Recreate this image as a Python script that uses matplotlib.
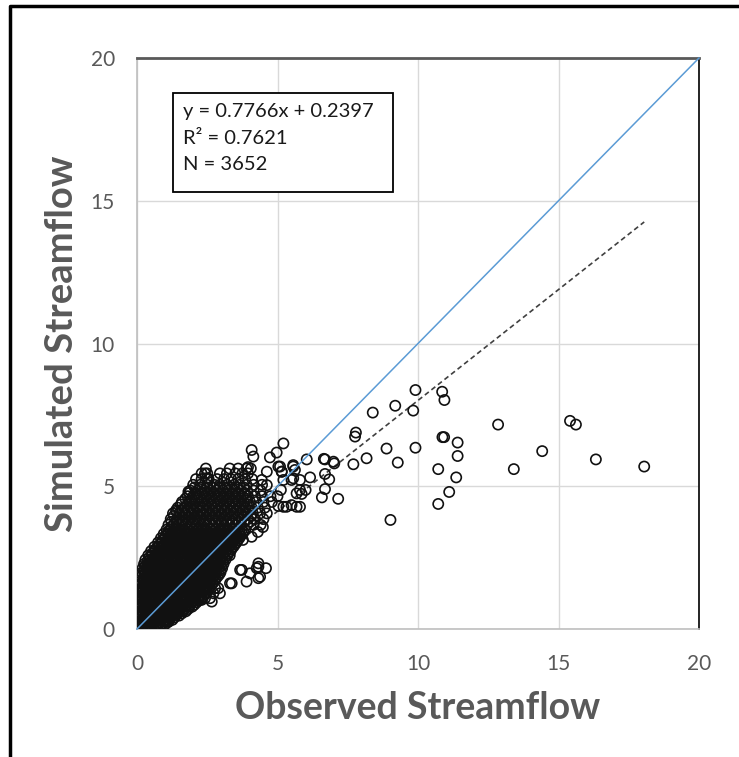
import matplotlib.pyplot as plt
from matplotlib.lines import Line2D
from matplotlib.patches import Rectangle

W, H = 739, 757

# regression summary shown in the box
slope = 0.7766
intercept = 0.2397
r2 = 0.7621
n_obs = 3652

# dense core of the cloud, one list of observed values per simulated level
core_sim = [0.05, 0.18, 0.32, 0.47, 0.62, 0.78, 0.93, 1.08, 1.23, 1.38, 1.53, 1.68,
            1.83, 1.98, 2.13, 2.28, 2.43, 2.58, 2.73, 2.88, 3.03, 3.18, 3.33, 3.48]
core_obs = [
    [0.03, 0.15, 0.28, 0.41, 0.52],
    [0.0, 0.12, 0.27, 0.43, 0.58, 0.74, 0.9, 1.02],
    [0.05, 0.2, 0.36, 0.51, 0.67, 0.83, 0.98, 1.13, 1.26],
    [0.02, 0.14, 0.3, 0.45, 0.61, 0.77, 0.92, 1.08, 1.24, 1.38, 1.5],
    [0.06, 0.22, 0.38, 0.53, 0.69, 0.85, 1.0, 1.16, 1.32, 1.47, 1.62, 1.74],
    [0.03, 0.15, 0.3, 0.46, 0.62, 0.78, 0.93, 1.09, 1.25, 1.41, 1.56, 1.72, 1.86, 1.96],
    [0.07, 0.23, 0.39, 0.55, 0.7, 0.86, 1.02, 1.18, 1.34, 1.49, 1.65, 1.81, 1.96, 2.12],
    [0.05, 0.16, 0.31, 0.47, 0.63, 0.79, 0.95, 1.1, 1.26, 1.42, 1.58, 1.73, 1.89, 2.05, 2.2, 2.31],
    [0.08, 0.24, 0.4, 0.55, 0.71, 0.87, 1.03, 1.19, 1.35, 1.5, 1.66, 1.82, 1.98, 2.13, 2.29, 2.44],
    [0.1, 0.2, 0.35, 0.5, 0.66, 0.82, 0.98, 1.14, 1.3, 1.45, 1.61, 1.77, 1.93, 2.08, 2.24, 2.4, 2.55],
    [0.12, 0.28, 0.44, 0.6, 0.75, 0.91, 1.07, 1.23, 1.39, 1.54, 1.7, 1.86, 2.02, 2.18, 2.33, 2.49, 2.64],
    [0.14, 0.25, 0.4, 0.56, 0.72, 0.88, 1.03, 1.19, 1.35, 1.51, 1.67, 1.83, 1.98, 2.14, 2.3, 2.46,
     2.62, 2.76],
    [0.16, 0.32, 0.48, 0.64, 0.8, 0.96, 1.11, 1.27, 1.43, 1.59, 1.75, 1.91, 2.06, 2.22, 2.38, 2.54,
     2.7, 2.86],
    [0.18, 0.3, 0.45, 0.61, 0.77, 0.93, 1.09, 1.24, 1.4, 1.56, 1.72, 1.88, 2.03, 2.19, 2.35, 2.51,
     2.67, 2.82, 2.97],
    [0.2, 0.36, 0.52, 0.68, 0.84, 1.0, 1.15, 1.31, 1.47, 1.63, 1.79, 1.94, 2.1, 2.26, 2.42, 2.58,
     2.74, 2.89, 3.03],
    [0.25, 0.38, 0.54, 0.7, 0.86, 1.02, 1.17, 1.33, 1.49, 1.65, 1.81, 1.96, 2.12, 2.28, 2.44, 2.6,
     2.76, 2.92, 3.08],
    [0.3, 0.46, 0.62, 0.78, 0.94, 1.09, 1.25, 1.41, 1.57, 1.73, 1.88, 2.04, 2.2, 2.36, 2.52, 2.68,
     2.83, 2.99, 3.15],
    [0.4, 0.53, 0.69, 0.85, 1.01, 1.17, 1.32, 1.48, 1.64, 1.8, 1.96, 2.11, 2.27, 2.43, 2.59, 2.75,
     2.91, 3.07, 3.22, 3.3],
    [0.5, 0.64, 0.8, 0.96, 1.12, 1.28, 1.43, 1.59, 1.75, 1.91, 2.07, 2.22, 2.38, 2.54, 2.7, 2.86,
     3.02, 3.17, 3.33],
    [0.62, 0.75, 0.91, 1.07, 1.23, 1.39, 1.54, 1.7, 1.86, 2.02, 2.18, 2.33, 2.49, 2.65, 2.81, 2.97,
     3.13, 3.28, 3.43],
    [0.75, 0.88, 1.04, 1.2, 1.36, 1.52, 1.67, 1.83, 1.99, 2.15, 2.31, 2.46, 2.62, 2.78, 2.94, 3.1,
     3.26, 3.41, 3.54],
    [0.85, 1.0, 1.16, 1.32, 1.48, 1.63, 1.79, 1.95, 2.11, 2.27, 2.42, 2.58, 2.74, 2.9, 3.06, 3.22,
     3.37, 3.52, 3.64],
    [0.95, 1.1, 1.26, 1.42, 1.58, 1.74, 1.89, 2.05, 2.21, 2.37, 2.53, 2.68, 2.84, 3.0, 3.16, 3.32,
     3.48, 3.63, 3.75],
    [1.05, 1.2, 1.36, 1.52, 1.68, 1.84, 2.0, 2.15, 2.31, 2.47, 2.63, 2.79, 2.94, 3.1, 3.26, 3.42,
     3.58, 3.73, 3.85],
]

# in-between levels of the core
fill_sim = [0.12, 0.25, 0.4, 0.55, 0.7, 0.85, 1.0, 1.15, 1.3, 1.45, 1.6, 1.75, 1.9,
            2.05, 2.2, 2.35, 2.5, 2.65, 2.8, 2.95, 3.1, 3.25, 3.4]
fill_obs = [
    [0.08, 0.22, 0.35, 0.5, 0.66, 0.82],
    [0.06, 0.2, 0.35, 0.5, 0.66, 0.82, 0.97, 1.12],
    [0.1, 0.28, 0.44, 0.59, 0.75, 0.9, 1.05, 1.2, 1.33],
    [0.08, 0.22, 0.38, 0.53, 0.69, 0.85, 1.0, 1.16, 1.32, 1.46, 1.6],
    [0.1, 0.3, 0.46, 0.61, 0.77, 0.93, 1.08, 1.24, 1.4, 1.55, 1.7, 1.82],
    [0.12, 0.31, 0.47, 0.62, 0.78, 0.94, 1.1, 1.26, 1.41, 1.57, 1.73, 1.89, 2.04],
    [0.13, 0.3, 0.47, 0.63, 0.79, 0.94, 1.1, 1.26, 1.42, 1.57, 1.73, 1.89, 2.05, 2.2],
    [0.14, 0.32, 0.48, 0.63, 0.79, 0.95, 1.11, 1.27, 1.42, 1.58, 1.74, 1.9, 2.06, 2.21, 2.37],
    [0.16, 0.32, 0.47, 0.63, 0.79, 0.95, 1.11, 1.27, 1.42, 1.58, 1.74, 1.9, 2.05, 2.21, 2.36, 2.5],
    [0.2, 0.36, 0.52, 0.68, 0.83, 0.99, 1.15, 1.31, 1.47, 1.62, 1.78, 1.94, 2.1, 2.26, 2.41, 2.57],
    [0.22, 0.36, 0.52, 0.68, 0.84, 1.0, 1.15, 1.31, 1.47, 1.63, 1.79, 1.95, 2.1, 2.26, 2.42, 2.58,
     2.7],
    [0.24, 0.4, 0.56, 0.72, 0.88, 1.04, 1.19, 1.35, 1.51, 1.67, 1.83, 1.99, 2.14, 2.3, 2.46, 2.62,
     2.8],
    [0.26, 0.4, 0.56, 0.72, 0.88, 1.04, 1.2, 1.35, 1.51, 1.67, 1.83, 1.99, 2.15, 2.3, 2.46, 2.62,
     2.78, 2.92],
    [0.28, 0.44, 0.6, 0.76, 0.92, 1.08, 1.23, 1.39, 1.55, 1.71, 1.87, 2.02, 2.18, 2.34, 2.5, 2.66,
     2.82, 2.97],
    [0.3, 0.46, 0.62, 0.78, 0.94, 1.1, 1.25, 1.41, 1.57, 1.73, 1.89, 2.04, 2.2, 2.36, 2.52, 2.68,
     2.84, 3.0],
    [0.36, 0.5, 0.66, 0.82, 0.98, 1.14, 1.3, 1.45, 1.61, 1.77, 1.93, 2.09, 2.25, 2.4, 2.56, 2.72,
     2.88, 3.04],
    [0.44, 0.6, 0.76, 0.92, 1.08, 1.24, 1.39, 1.55, 1.71, 1.87, 2.03, 2.19, 2.34, 2.5, 2.66, 2.82,
     2.98, 3.12],
    [0.55, 0.7, 0.86, 1.02, 1.18, 1.34, 1.5, 1.65, 1.81, 1.97, 2.13, 2.29, 2.44, 2.6, 2.76, 2.92,
     3.08, 3.24],
    [0.66, 0.82, 0.98, 1.14, 1.3, 1.46, 1.62, 1.77, 1.93, 2.09, 2.25, 2.41, 2.56, 2.72, 2.88, 3.04,
     3.2, 3.36],
    [0.8, 0.96, 1.12, 1.28, 1.44, 1.59, 1.75, 1.91, 2.07, 2.23, 2.38, 2.54, 2.7, 2.86, 3.02, 3.18,
     3.34, 3.48],
    [0.9, 1.06, 1.22, 1.38, 1.54, 1.7, 1.85, 2.01, 2.17, 2.33, 2.49, 2.64, 2.8, 2.96, 3.12, 3.28,
     3.44, 3.58],
    [1.0, 1.16, 1.32, 1.48, 1.64, 1.8, 1.95, 2.11, 2.27, 2.43, 2.59, 2.74, 2.9, 3.06, 3.22, 3.38,
     3.54, 3.68],
    [1.1, 1.27, 1.43, 1.59, 1.75, 1.91, 2.07, 2.22, 2.38, 2.54, 2.7, 2.86, 3.01, 3.17, 3.33, 3.49,
     3.65, 3.8],
]

# thinner upper part of the cloud
mid_sim = [3.65, 3.85, 4.05, 4.25, 4.45, 4.65, 4.85, 5.05, 5.25, 5.45, 5.62,
           3.76, 3.96, 4.16, 4.36, 4.56, 4.76, 4.96]
mid_obs = [
    [1.12, 1.3, 1.5, 1.72, 1.9, 2.1, 2.3, 2.5, 2.7, 2.92, 3.1, 3.3, 3.5, 3.7, 3.92, 4.15, 4.4],
    [1.2, 1.42, 1.62, 1.85, 2.05, 2.25, 2.45, 2.68, 2.88, 3.08, 3.3, 3.52, 3.72, 3.95, 4.2, 4.5],
    [1.28, 1.5, 1.72, 1.95, 2.15, 2.38, 2.6, 2.8, 3.02, 3.25, 3.45, 3.68, 3.9, 4.12, 4.38, 4.62],
    [1.45, 1.68, 1.9, 2.12, 2.35, 2.55, 2.78, 3.0, 3.2, 3.42, 3.65, 3.85, 4.08, 4.3, 4.55],
    [1.6, 1.85, 2.05, 2.3, 2.5, 2.72, 2.95, 3.15, 3.38, 3.6, 3.8, 4.02, 4.25, 4.5, 4.8],
    [1.8, 2.0, 2.22, 2.45, 2.65, 2.88, 3.1, 3.3, 3.52, 3.75, 3.95, 4.2, 4.45, 4.75, 5.0],
    [1.9, 2.15, 2.38, 2.6, 2.82, 3.05, 3.25, 3.48, 3.7, 3.92, 4.15, 4.4],
    [2.0, 2.25, 2.5, 2.75, 2.95, 3.2, 3.45, 3.65, 3.9, 4.15, 4.45],
    [2.1, 2.3, 2.55, 2.85, 3.1, 3.35, 3.6, 3.85, 4.1],
    [2.3, 2.5, 2.95, 3.2, 3.5, 3.75, 3.95],
    [2.45, 3.3, 3.6, 3.9, 4.05],
    [1.22, 1.4, 1.61, 1.81, 2.0, 2.2, 2.4, 2.6, 2.81, 3.01, 3.2, 3.4, 3.6, 3.81, 4.03],
    [1.31, 1.52, 1.73, 1.95, 2.15, 2.35, 2.56, 2.78, 2.98, 3.19, 3.41, 3.62, 3.83, 4.07],
    [1.39, 1.61, 1.83, 2.04, 2.26, 2.49, 2.7, 2.9, 3.13, 3.35, 3.56, 3.79, 4.01],
    [1.56, 1.79, 2.01, 2.23, 2.45, 2.66, 2.89, 3.1, 3.31, 3.53, 3.75, 3.96],
    [1.72, 1.95, 2.17, 2.4, 2.61, 2.83, 3.05, 3.26, 3.49, 3.7, 3.91],
    [1.85, 2.1, 2.33, 2.55, 2.76, 2.98, 3.2, 3.41, 3.63, 3.85],
    [2.05, 2.27, 2.5, 2.72, 2.93, 3.15, 3.37, 3.58, 3.8],
]

# isolated days around and beyond the cloud
obs_scatter = [9.91, 10.86, 10.94, 9.19, 9.83, 8.39, 7.79, 7.76, 12.85, 15.41, 15.62,
               10.87, 10.93, 11.41, 11.41, 11.36, 10.72, 11.11, 10.72, 9.02, 9.91, 8.88,
               9.28, 8.17, 7.70, 14.42, 13.41, 16.33, 18.05, 6.04, 6.65, 6.69, 6.99, 7.02,
               6.16, 6.69, 6.84, 5.80, 6.00, 6.69, 5.86, 6.58, 7.16, 5.80,
               5.21, 4.08, 4.14, 4.97, 4.73, 5.56, 5.62, 5.56, 5.09, 5.15, 4.62, 5.12,
               5.68, 5.80, 5.68, 5.03, 5.21, 5.32, 5.50, 5.03, 5.15, 5.21, 5.50, 4.44,
               4.62, 4.32, 4.26, 4.59, 3.67, 3.90, 4.32, 3.31, 2.89, 2.72, 2.60, 2.30,
               0.40, 1.08, 0.35, 0.58, 0.94, 1.83, 1.41, 1.23, 1.17, 2.00, 2.42, 2.48,
               3.73, 4.02, 4.32, 4.38, 3.37, 2.78, 2.66, 2.42, 2.95, 1.06, 4.48, 4.30,
               4.08, 3.77, 3.95, 5.56]
sim_scatter = [8.37, 8.31, 8.02, 7.82, 7.65, 7.58, 6.88, 6.74, 7.16, 7.29, 7.16,
               6.72, 6.72, 6.53, 6.06, 5.31, 5.60, 4.80, 4.38, 3.82, 6.35, 6.32,
               5.83, 5.98, 5.77, 6.23, 5.60, 5.94, 5.69, 5.94, 5.96, 5.94, 5.86, 5.80,
               5.31, 5.43, 5.24, 5.22, 4.87, 4.90, 4.73, 4.61, 4.56, 4.28,
               6.50, 6.27, 6.04, 6.18, 6.01, 5.74, 5.57, 5.28, 5.69, 5.51, 5.51, 4.87,
               4.75, 4.87, 4.28, 4.31, 4.28, 4.28, 4.34, 5.69, 5.51, 5.22, 5.22, 5.22,
               5.04, 2.30, 2.13, 2.13, 2.07, 1.66, 1.78, 1.60, 1.43, 1.25, 1.08, 1.02,
               2.18, 0.26, 2.18, 2.30, 2.94, 4.81, 4.11, 3.58, 3.47, 4.20, 5.45, 5.28,
               2.07, 1.95, 2.18, 1.83, 1.60, 1.43, 0.96, 1.08, 1.25, 0.26, 3.57, 3.40,
               3.23, 3.12, 5.67, 5.69]

observed, simulated = [], []
for level, row in zip(core_sim + fill_sim + mid_sim, core_obs + fill_obs + mid_obs):
    observed += row
    simulated += [level] * len(row)
observed += obs_scatter
simulated += sim_scatter

grey = "#595959"
plt.rcParams["font.family"] = ["Lato", "DejaVu Sans"]

fig = plt.figure(figsize=(W / 100, H / 100), dpi=100)
ax = fig.add_axes([137 / W, 1 - 629 / H, 562 / W, 571 / H])

ax.set_xlim(0, 20)
ax.set_ylim(0, 20)
ax.set_xticks([0, 5, 10, 15, 20])
ax.set_yticks([0, 5, 10, 15, 20])
ax.grid(True, color="#d9d9d9", lw=1.0)
ax.set_axisbelow(True)
ax.tick_params(length=0, labelsize=15, labelcolor=grey)
ax.tick_params(axis="x", pad=18)
ax.tick_params(axis="y", pad=16)
for side in ["left", "bottom"]:
    ax.spines[side].set_color("#bfbfbf")
    ax.spines[side].set_linewidth(1.2)
ax.spines["top"].set_color("#595959")
ax.spines["top"].set_linewidth(2.0)
ax.spines["right"].set_color("black")
ax.spines["right"].set_linewidth(1.2)

x_max = max(observed)
ax.plot([0, x_max], [intercept, slope * x_max + intercept], ls=(0, (3, 2)),
        color="#404040", lw=1.2, zorder=2)
ax.scatter(observed, simulated, s=54, facecolors="none", edgecolors="#111111",
           linewidths=1.2, zorder=3)
ax.plot([0, 20], [0, 20], color="#5b9bd5", lw=1.1, zorder=4, clip_on=False)

ax.set_xlabel("Observed Streamflow", fontsize=27, fontweight="bold", color=grey)
ax.set_ylabel("Simulated Streamflow", fontsize=27.5, fontweight="bold", color=grey)
ax.xaxis.label.set_va("center")
ax.yaxis.label.set_va("center")
ax.xaxis.set_label_coords(0.5, (629 - 708) / 571)
ax.yaxis.set_label_coords((62 - 137) / 562, 0.5)


def fx(px):
    return px / W


def fy(py):
    return 1 - py / H


# equation box
fig.patches.append(Rectangle((fx(173), fy(192)), fx(393) - fx(173), fy(93) - fy(192),
                             transform=fig.transFigure, fill=True, facecolor="white",
                             edgecolor="black", lw=1.3, zorder=5))
box_lines = [f"y = {slope}x + {intercept}", f"R² = {r2}", f"N = {n_obs}"]
for i, line in enumerate(box_lines):
    fig.text(fx(183), fy(112 + 26 * i), line, fontsize=14.5, color="#1a1a1a",
             va="center", ha="left", zorder=6)

# outer chart frame, only its left and top edges fall inside the image
fig.add_artist(Line2D([fx(10), fx(10), fx(760)], [fy(800), fy(6), fy(6)],
                      transform=fig.transFigure, color="black", lw=2.5))

fig.savefig("out.png", dpi=100)
